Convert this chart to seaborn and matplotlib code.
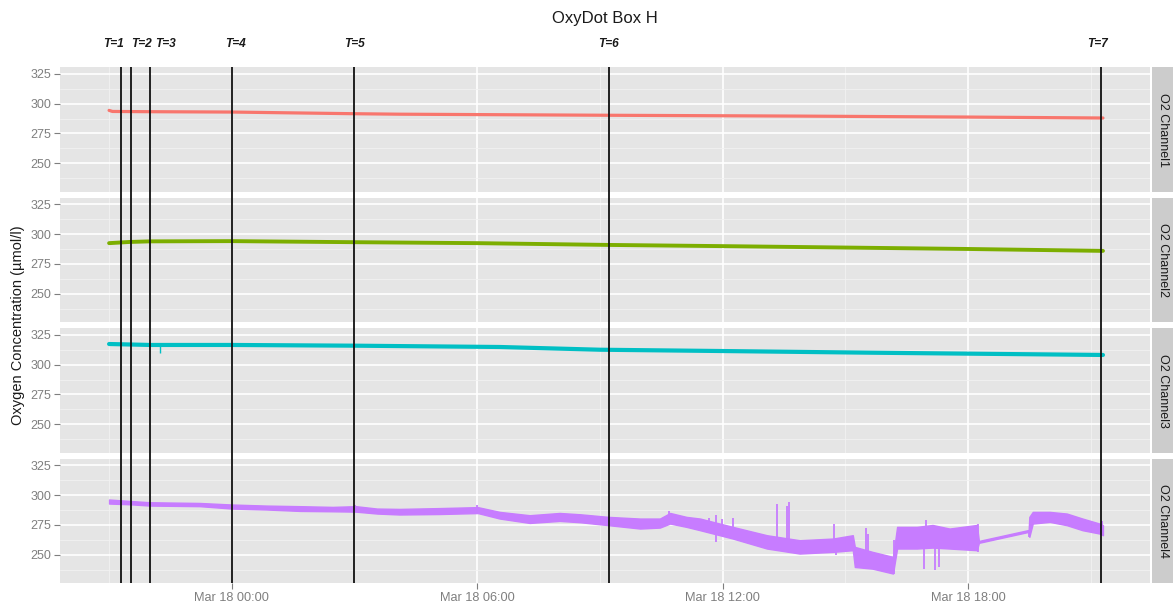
import matplotlib
matplotlib.use("Agg")
import numpy as np
import pandas as pd
import matplotlib.pyplot as plt
import matplotlib.dates as mdates
import matplotlib.transforms as mtransforms
import seaborn as sns

# ---------------- data ----------------
TITLE = "OxyDot Box H"
YLABEL = "Oxygen Concentration (µmol/l)"
CHANNELS = ["O2 Channel1", "O2 Channel2", "O2 Channel3", "O2 Channel4"]
COLORS = ["#F8766D", "#7CAE00", "#00BFC4", "#C77CFF"]

# times written as "day HH:MM" in March 2015
ch1_time = ["17 21:00", "17 21:05", "17 22:00", "18 00:00", "18 03:00", "18 04:06",
            "18 09:13", "18 13:53", "18 18:00", "18 21:18"]
ch1_value = [294.4, 293.5, 293.3, 293.0, 291.6, 291.2, 290.3, 289.6, 288.8, 288.0]

ch2_time = ["17 21:00", "17 21:30", "17 22:00", "18 00:00", "18 03:00", "18 06:00",
            "18 09:13", "18 12:00", "18 15:00", "18 18:00", "18 21:18"]
ch2_value = [292.5, 293.5, 294.0, 294.2, 293.3, 292.5, 291.0, 290.0, 288.8, 287.6, 286.0]

ch3_time = ["17 21:00", "17 22:00", "18 00:00", "18 03:00", "18 06:33", "18 09:00",
            "18 12:00", "18 15:37", "18 18:00", "18 21:18"]
ch3_value = [317.4, 316.6, 316.6, 316.0, 314.9, 312.6, 311.5, 310.1, 309.3, 308.2]
ch3_spike_time = ["17 22:14"]
ch3_spike_low = [309.6]
ch3_spike_high = [316.6]

# channel 4 is very noisy: low / high envelope of the trace
ch4_time = ["17 21:00", "17 21:30", "17 22:00", "17 23:13", "18 00:00", "18 00:51",
            "18 01:40", "18 02:28", "18 03:02", "18 03:33", "18 04:06", "18 05:05",
            "18 06:01", "18 06:33", "18 07:17", "18 08:01", "18 08:31", "18 09:13",
            "18 09:59", "18 10:28", "18 10:43", "18 11:07", "18 11:27", "18 12:15",
            "18 13:05", "18 13:53", "18 14:42", "18 15:11", "18 15:14", "18 15:40",
            "18 16:10", "18 16:16", "18 16:45", "18 17:08", "18 17:33", "18 18:13",
            "18 18:16", "18 19:29", "18 19:30", "18 19:35", "18 20:00", "18 20:25",
            "18 20:48", "18 21:13", "18 21:18"]
ch4_low = [293.0, 292.4, 291.3, 290.8, 288.8, 288.0,
           286.8, 286.5, 286.2, 284.6, 283.8, 284.2,
           285.0, 280.4, 276.7, 278.4, 277.3, 274.8,
           272.0, 272.8, 276.2, 273.4, 270.6, 263.6,
           255.2, 251.0, 252.4, 253.8, 239.7, 238.3,
           234.2, 255.2, 255.2, 256.0, 255.2, 253.8,
           260.0, 269.2, 265.0, 276.2, 277.6, 274.8,
           270.6, 267.8, 266.4]
ch4_high = [296.4, 295.2, 294.1, 293.5, 292.2, 291.3,
            290.8, 290.2, 290.8, 288.8, 288.5, 289.2,
            290.0, 286.0, 283.2, 285.1, 284.0, 281.8,
            280.4, 280.4, 285.1, 281.8, 280.4, 273.4,
            266.4, 262.2, 263.6, 266.4, 256.6, 252.4,
            248.2, 273.4, 273.4, 275.0, 272.0, 275.0,
            261.6, 270.8, 281.8, 286.0, 286.0, 284.6,
            280.4, 276.2, 274.8]
# short excursions (spikes) in channel 4
ch4_spike_time = ["17 21:10", "18 03:01", "18 06:00", "18 10:41", "18 11:40",
                  "18 11:51", "18 11:59", "18 12:16", "18 13:20", "18 13:34", "18 13:38",
                  "18 14:44", "18 14:46", "18 15:30", "18 15:34", "18 16:12",
                  "18 16:56", "18 16:59", "18 17:11", "18 17:17", "18 18:14",
                  "18 19:29", "18 21:17"]
ch4_spike_low = [293.0, 286.0, 285.0, 276.0, 271.0,
                 260.8, 270.0, 265.0, 258.0, 258.0, 258.0,
                 255.0, 250.0, 245.0, 245.0, 234.0,
                 237.6, 258.0, 237.0, 240.0, 252.5,
                 265.0, 268.0]
ch4_spike_high = [296.4, 292.0, 291.5, 286.5, 281.0,
                  283.2, 280.4, 281.0, 293.0, 291.0, 294.4,
                  276.2, 262.0, 272.8, 267.8, 262.0,
                  260.0, 279.0, 260.0, 258.0, 276.0,
                  271.0, 278.0]

# sampling time points
T_labels = ["T=1", "T=2", "T=3", "T=4", "T=5", "T=6", "T=7"]
T_line_time = ["17 21:17", "17 21:32", "17 22:00", "18 00:00", "18 03:00", "18 09:13", "18 21:15"]
T_label_time = ["17 21:06", "17 21:47", "17 22:23", "18 00:06", "18 03:00", "18 09:13", "18 21:10"]

Y_TICKS = [250, 275, 300, 325]
Y_MINOR = [237.5, 262.5, 287.5, 312.5]
Y_LIM = (226.0, 330.6)
X_LIM = ["17 19:48", "18 22:27"]
X_MAJOR = ["18 00:00", "18 06:00", "18 12:00", "18 18:00"]
X_MINOR = ["17 21:00", "18 03:00", "18 09:00", "18 15:00", "18 21:00"]


def ts(lst):
    return pd.to_datetime(["2015-03-" + s for s in lst])


# ---------------- style ----------------
sns.set_style("darkgrid", rc={"axes.facecolor": "#E5E5E5", "grid.color": "white"})
plt.rcParams["font.family"] = ["Liberation Sans", "DejaVu Sans"]

W, H = 1175, 608
fig = plt.figure(figsize=(W / 100, H / 100), dpi=100)

left_px, right_px = 60, 1150
top0, ph, gap = 67.3, 124.5, 6.0
xlim = ts(X_LIM)

series = [
    (ts(ch1_time), ch1_value, 2.3),
    (ts(ch2_time), ch2_value, 2.8),
    (ts(ch3_time), ch3_value, 3.0),
]

axes = []
for i in range(4):
    top = top0 + i * (ph + gap)
    rect = [left_px / W, 1 - (top + ph) / H, (right_px - left_px) / W, ph / H]
    ax = fig.add_axes(rect)
    ax.set_facecolor("#E5E5E5")
    if i < 3:
        t, v, lw = series[i]
        sns.lineplot(x=t, y=v, ax=ax, color=COLORS[i], linewidth=lw, sort=False)
        if i == 2:
            ax.vlines(ts(ch3_spike_time), ch3_spike_low, ch3_spike_high,
                      color=COLORS[2], linewidth=1.0)
    else:
        t4 = ts(ch4_time)
        ax.fill_between(t4, ch4_low, ch4_high, color=COLORS[3], linewidth=1.0,
                        edgecolor=COLORS[3])
        ax.vlines(ts(ch4_spike_time), ch4_spike_low, ch4_spike_high,
                  color=COLORS[3], linewidth=1.3)
    ax.set_xlim(xlim[0], xlim[1])
    ax.set_ylim(*Y_LIM)
    ax.set_yticks(Y_TICKS)
    ax.set_yticks(Y_MINOR, minor=True)
    ax.set_xticks(ts(X_MAJOR))
    ax.set_xticks(ts(X_MINOR), minor=True)
    ax.xaxis.set_major_formatter(mdates.DateFormatter("%b %d %H:%M"))
    ax.grid(which="major", color="white", linewidth=1.2)
    ax.grid(which="minor", color="#F2F2F2", linewidth=0.6)
    ax.set_axisbelow(True)
    for s in ax.spines.values():
        s.set_visible(False)
    ax.set_xlabel("")
    ax.set_ylabel("")
    ax.tick_params(axis="y", which="major", left=True, length=4, width=0.8,
                   color="#7F7F7F", labelcolor="#7F7F7F", labelsize=9, pad=2)
    ax.tick_params(axis="y", which="minor", left=False)
    ax.tick_params(axis="x", which="minor", bottom=False)
    if i < 3:
        ax.tick_params(axis="x", which="major", bottom=False, labelbottom=False)
    else:
        ax.tick_params(axis="x", which="major", bottom=True, length=4, width=0.8,
                       color="#7F7F7F", labelcolor="#7F7F7F", labelsize=9.2, pad=2)
    axes.append(ax)

    # facet strip
    sax = fig.add_axes([1152 / W, rect[1], 21 / W, ph / H])
    sax.set_facecolor("#CCCCCC")
    sax.set_xticks([])
    sax.set_yticks([])
    for s in sax.spines.values():
        s.set_visible(False)
    sax.grid(False)
    sax.text(0.5, 0.5, CHANNELS[i], rotation=270, ha="center", va="center",
             fontsize=9, color="#1A1A1A", transform=sax.transAxes)

# overlay for the sampling lines spanning all facets
bottom_px = top0 + 4 * ph + 3 * gap
ov = fig.add_axes([left_px / W, 1 - bottom_px / H, (right_px - left_px) / W,
                   (bottom_px - top0) / H])
ov.set_xlim(xlim[0], xlim[1])
ov.set_ylim(0, 1)
ov.axis("off")
ov.patch.set_alpha(0)
for t in ts(T_line_time):
    ov.axvline(t, color="#111111", linewidth=1.3)
trans = mtransforms.blended_transform_factory(ov.transData, fig.transFigure)
for lab, t in zip(T_labels, ts(T_label_time)):
    ov.text(mdates.date2num(t), 1 - 44 / H, lab, transform=trans, ha="center",
            va="center", fontsize=8.6, fontstyle="italic", fontweight="bold",
            color="#1A1A1A", clip_on=False)

fig.text(605 / W, 1 - 18 / H, TITLE, ha="center", va="center", fontsize=12,
         color="#1A1A1A")
fig.text(18 / W, 1 - 325 / H, YLABEL, ha="center", va="center", rotation=90,
         fontsize=10.5, color="#1A1A1A")

fig.savefig("out.png", dpi=100)
